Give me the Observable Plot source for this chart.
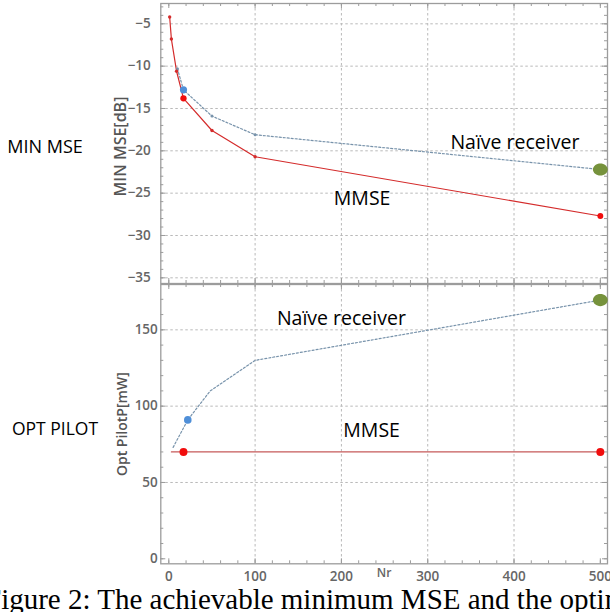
<!DOCTYPE html>
<html><head><meta charset="utf-8">
<script src="https://cdn.jsdelivr.net/npm/d3@7"></script>
<script src="https://cdn.jsdelivr.net/npm/@observablehq/plot@0.6"></script>
<style>
html,body{margin:0;padding:0;background:#fff;}
#wrap{position:relative;width:610px;height:612px;overflow:hidden;background:#fff;}
.abs{position:absolute;}
.side{font-family:"Open Sans",sans-serif;font-size:18px;color:#000;white-space:nowrap;transform:translate(-50%,-50%);}
#caption{font-family:"Liberation Serif",serif;font-size:29px;color:#000;white-space:nowrap;left:-15px;top:585px;line-height:29px;}
svg{overflow:visible;}
</style></head>
<body><div id="wrap">
<div id="top" class="abs" style="left:0;top:0"></div>
<div id="bottom" class="abs" style="left:0;top:283px"></div>
<div class="abs side" style="left:45px;top:146px">MIN MSE</div>
<div class="abs side" style="left:55px;top:428px;font-size:17.5px">OPT PILOT</div>
<div id="caption" class="abs">Figure 2: The achievable minimum MSE and the optimal pilot power</div>
</div>
<script>
// axis ticks
const nrTicks = [0, 100, 200, 300, 400, 500];
const mseTicks = [-5, -10, -15, -20, -25, -30, -35];
const pilotTicks = [0, 50, 100, 150];

// MIN MSE panel (dB)
const mmseNr = [1, 3, 9, 17, 50, 100, 500];
const mmseMSE = [-4.2, -6.8, -10.6, -13.8, -17.6, -20.7, -27.7];
const naiveNr = [10, 17, 50, 100, 500];
const naiveMSE = [-10.3, -12.8, -15.9, -18.1, -22.2];

// OPT PILOT panel (mW)
const naivePilotNr = [5, 22, 48, 100, 500];
const naivePilot = [73, 91, 110, 130, 169.5];
const mmsePilotNr = [3, 17, 500];
const mmsePilot = [70, 70, 70];

// highlighted markers (by Nr)
const naiveMarkNr = [17, 500];   // top: blue, green
const mmseMarkNr = [17, 500];    // top: red
const naivePilotMarkNr = [22, 500];
const mmsePilotMarkNr = [17, 500];

// annotations
const topNotes = [{t: "Naïve receiver", nr: 401, v: -19.1}, {t: "MMSE", nr: 224, v: -25.7}];
const botNotes = [{t: "Naïve receiver", nr: 200, v: 157.5}, {t: "MMSE", nr: 235, v: 84}];

const zip = (xs, ys) => xs.map((x, i) => ({x, y: ys[i]}));
const mmse = zip(mmseNr, mmseMSE);
const naive = zip(naiveNr, naiveMSE);
const naiveP = zip(naivePilotNr, naivePilot);
const mmseP = zip(mmsePilotNr, mmsePilot);

const RED_LINE = "#d42b2b", RED_LINE2 = "#c65a5a", RED_DOT = "#f10d0d";
const BLUE_LINE = "#7893ab", BLUE_DOT = "#4f8fd8", GREEN = "#76923c";
const FRAME = "#9c9c9c", GRID = "#b9b9b9";

const ellipse = {
  draw(ctx, size) {
    const r = Math.sqrt(size / Math.PI), rx = r * 1.12, ry = r * 0.92, k = 0.5523;
    ctx.moveTo(rx, 0);
    ctx.bezierCurveTo(rx, ry * k, rx * k, ry, 0, ry);
    ctx.bezierCurveTo(-rx * k, ry, -rx, ry * k, -rx, 0);
    ctx.bezierCurveTo(-rx, -ry * k, -rx * k, -ry, 0, -ry);
    ctx.bezierCurveTo(rx * k, -ry, rx, -ry * k, rx, 0);
    ctx.closePath();
  }
};

const W = 610;
const xDomain = [-9.27, 508.3];
const minorX = d3.range(0, 510, 20);

function frameTicks(fw, fh, minorY, majorY) {
  return [
    Plot.ruleX(minorX, {x: d => d, insetTop: fh - 3, stroke: FRAME}),
    Plot.ruleX(nrTicks, {x: d => d, insetTop: fh - 5, stroke: FRAME}),
    Plot.ruleX(minorX, {x: d => d, insetBottom: fh - 3, stroke: FRAME}),
    Plot.ruleX(nrTicks, {x: d => d, insetBottom: fh - 5, stroke: FRAME}),
    Plot.ruleY(minorY, {y: d => d, insetRight: fw - 3, stroke: FRAME}),
    Plot.ruleY(majorY, {y: d => d, insetRight: fw - 5, stroke: FRAME}),
    Plot.ruleY(minorY, {y: d => d, insetLeft: fw - 3, stroke: FRAME}),
    Plot.ruleY(majorY, {y: d => d, insetLeft: fw - 5, stroke: FRAME})
  ];
}

// ---- top panel
{
  const H = 284, mL = 160.3, mR = 3, mT = 3, mB = 1;
  const fw = W - mL - mR, fh = H - mT - mB;
  const p = Plot.plot({
    width: W, height: H, marginLeft: mL, marginRight: mR, marginTop: mT, marginBottom: mB,
    style: {fontFamily: "Open Sans", fontSize: "13.5px", background: "transparent", overflow: "visible"},
    x: {domain: xDomain, axis: null},
    y: {domain: [-35.67, -2.6], axis: null},
    marks: [
      Plot.gridY(mseTicks, {stroke: GRID, strokeOpacity: 1, strokeDasharray: "2.5,2.5"}),
      Plot.gridX([100, 200, 300, 400], {stroke: GRID, strokeOpacity: 1, strokeDasharray: "2.5,2.5"}),
      ...frameTicks(fw, fh, d3.range(-35, -2, 1), mseTicks),
      Plot.frame({stroke: FRAME, strokeWidth: 1.3}),
      Plot.axisY({ticks: mseTicks, tickSize: 0, tickPadding: 10, label: null, fontSize: 13.5, fontWeight: 600, fill: "#666"}),
      Plot.text(["MIN MSE[dB]"], {text: d => d, frameAnchor: "left", textAnchor: "middle", dx: -40, dy: 3, rotate: -90, fontSize: 16, fontWeight: 600, fill: "#555"}),
      Plot.line(naive, {x: "x", y: "y", stroke: BLUE_LINE, strokeWidth: 1.2, strokeDasharray: "2,2"}),
      Plot.line(mmse, {x: "x", y: "y", stroke: RED_LINE, strokeWidth: 1.2}),
      Plot.dot(naive, {x: "x", y: "y", r: 1.5, fill: BLUE_LINE}),
      Plot.dot(mmse, {x: "x", y: "y", r: 1.7, fill: RED_LINE}),
      Plot.dot(naive.filter(d => d.x === naiveMarkNr[0]), {x: "x", y: "y", r: 3.6, fill: BLUE_DOT}),
      Plot.dot(mmse.filter(d => mmseMarkNr.includes(d.x)), {x: "x", y: "y", r: d => d.x === 17 ? 4.6 : 4, fill: RED_DOT}),
      Plot.dot(naive.filter(d => d.x === naiveMarkNr[1]), {x: "x", y: "y", r: 6.6, symbol: ellipse, fill: GREEN}),
      Plot.text(topNotes, {x: "nr", y: "v", text: "t", fontSize: 19.5, fill: "#000", fontFamily: "Open Sans"})
    ]
  });
  document.getElementById("top").appendChild(p);
}

// ---- bottom panel
{
  const H = 307, mL = 160.3, mR = 3, mT = 1, mB = 26.7;
  const fw = W - mL - mR, fh = H - mT - mB;
  const p = Plot.plot({
    width: W, height: H, marginLeft: mL, marginRight: mR, marginTop: mT, marginBottom: mB,
    style: {fontFamily: "Open Sans", fontSize: "13.5px", background: "transparent", overflow: "visible"},
    x: {domain: xDomain, axis: null},
    y: {domain: [-3.28, 179.7], axis: null},
    marks: [
      Plot.gridY([50, 100, 150], {stroke: GRID, strokeOpacity: 1, strokeDasharray: "2.5,2.5"}),
      Plot.gridX([100, 200, 300, 400], {stroke: GRID, strokeOpacity: 1, strokeDasharray: "2.5,2.5"}),
      ...frameTicks(fw, fh, d3.range(0, 180, 10), pilotTicks),
      Plot.frame({stroke: FRAME, strokeWidth: 1.3}),
      Plot.axisY({ticks: pilotTicks, tickSize: 0, tickPadding: 3, label: null, fontSize: 13.5, fontWeight: 600, fill: "#666"}),
      Plot.axisX({ticks: nrTicks, tickSize: 0, tickPadding: 8, label: null, fontSize: 13.5, fontWeight: 600, fill: "#666"}),
      Plot.text(["Opt PilotP[mW]"], {text: d => d, frameAnchor: "left", textAnchor: "middle", dx: -38, rotate: -90, fontSize: 14, fontWeight: 600, fill: "#555"}),
      Plot.text(["Nr"], {text: d => d, frameAnchor: "bottom", dy: 13, fontSize: 12, fontWeight: 600, fill: "#666"}),
      Plot.line(naiveP, {x: "x", y: "y", stroke: BLUE_LINE, strokeWidth: 1.2, strokeDasharray: "2,2"}),
      Plot.line(mmseP, {x: "x", y: "y", stroke: RED_LINE2, strokeWidth: 1.2}),
      Plot.dot(naiveP.filter(d => d.x === naivePilotMarkNr[0]), {x: "x", y: "y", r: 3.8, fill: BLUE_DOT}),
      Plot.dot(mmseP.filter(d => mmsePilotMarkNr.includes(d.x)), {x: "x", y: "y", r: 4, fill: RED_DOT}),
      Plot.dot(naiveP.filter(d => d.x === naivePilotMarkNr[1]), {x: "x", y: "y", r: 6.6, symbol: ellipse, fill: GREEN}),
      Plot.text(botNotes, {x: "nr", y: "v", text: "t", fontSize: 19.5, fill: "#000", fontFamily: "Open Sans"})
    ]
  });
  document.getElementById("bottom").appendChild(p);
}
</script>
</body></html>
